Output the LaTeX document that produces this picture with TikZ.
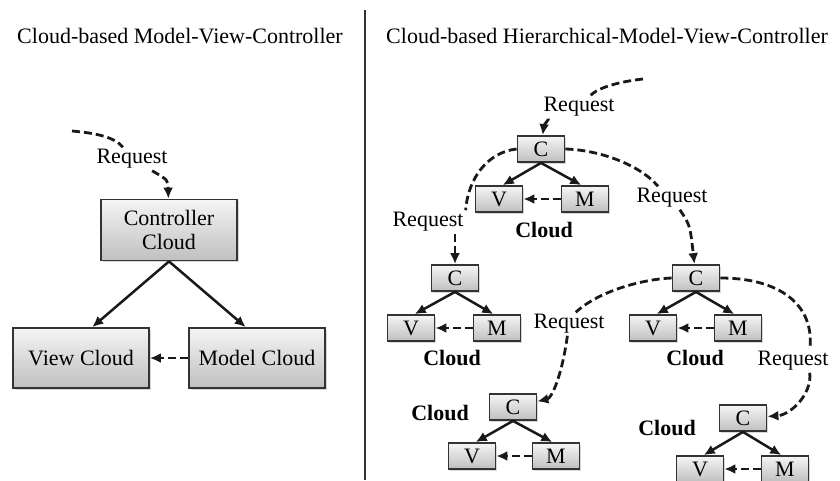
\documentclass[tikz,border=0pt]{standalone}
\usepackage{fontspec}
\setmainfont{Liberation Serif}
\usetikzlibrary{arrows.meta, positioning, shadows}

\begin{document}
\begin{tikzpicture}[x=1pt, y=-1pt, >={Latex[length=11pt, width=10pt]}, font=\fontsize{22}{24}\selectfont]
% Define styles for boxes, labels and arrows
\tikzstyle{block} = [draw=black!80, line width=1.8pt, rectangle, top color=gray!8, bottom color=gray!50, drop shadow={shadow xshift=1.5pt, shadow yshift=-1.5pt, opacity=0.3}, minimum width=136pt, minimum height=61pt, align=center, inner sep=0pt]
\tikzstyle{cell} = [block, minimum width=47pt, minimum height=26pt]
\tikzstyle{tag} = [inner sep=2pt]
\tikzstyle{cloudtag} = [font=\fontsize{22}{24}\selectfont\bfseries]
\tikzstyle{link} = [->, line width=2.5pt, black!90]
\tikzstyle{request} = [line width=2.8pt, dash pattern=on 8pt off 4pt, black!90]

\path[use as bounding box, fill=white] (0,0) rectangle (840,480);

% Titles and divider
\node[anchor=base] (title1) at (180,43) {Cloud-based Model-View-Controller};
\node[anchor=base] (title2) at (607,43) {Cloud-based Hierarchical-Model-View-Controller};
\draw[line width=2pt, black!80] (365,10) -- (365,480);

% Nodes placement, left side
\node[block] (ctrl) at (169,230) {Controller\\Cloud};
\node[block, minimum height=60pt] (view) at (81,358) {View Cloud};
\node[block, minimum height=60pt] (model) at (257,358) {Model Cloud};
\coordinate (in0) at (72,131);
\node[tag] (req0) at (132,159) {Request};

% Nodes placement, right side
\coordinate (in1) at (643,79);
\node[tag] (req1) at (579,107) {Request};
\node[cell] (c1) at (541,149) {C};
\node[cell] (v1) at (499,199) {V};
\node[cell] (m1) at (585,199) {M};
\node[cloudtag] (cloud1) at (544,230) {Cloud};
\node[tag] (req2) at (428,222) {Request};
\node[tag] (req3) at (672,198) {Request};

\node[cell] (c2) at (455,278) {C};
\node[cell] (v2) at (411,328) {V};
\node[cell] (m2) at (497,328) {M};
\node[cloudtag] (cloud2) at (452,358) {Cloud};

\node[cell] (c3) at (696,278) {C};
\node[cell] (v3) at (653,328) {V};
\node[cell] (m3) at (738,328) {M};
\node[cloudtag] (cloud3) at (695,358) {Cloud};
\node[tag] (req4) at (569,324) {Request};
\node[tag] (req5) at (793,361) {Request};

\node[cell] (c4) at (513,407) {C};
\node[cell] (v4) at (472,456) {V};
\node[cell] (m4) at (556,456) {M};
\node[cloudtag] (cloud4) at (440,413) {Cloud};

\node[cell] (c5) at (743,418) {C};
\node[cell] (v5) at (700,469) {V};
\node[cell] (m5) at (785,469) {M};
\node[cloudtag] (cloud5) at (667,428) {Cloud};

% Draw edges, left side
\draw[request] (in0) .. controls (95,133) and (115,137) .. (req0);
\draw[request, ->] (req0) .. controls (168,180) .. (ctrl);
\draw[link] (ctrl.south) -- (view.70);
\draw[link] (ctrl.south) -- (model.110);
\draw[request, ->] (model) -- (view);

% Requests passed down the hierarchy
\draw[request] (in1) .. controls (625,81) and (600,86) .. (req1);
\draw[request, ->] (req1) .. controls (550,118) and (544,125) .. (c1);
\draw[request] (c1.west) .. controls (488,152) and (468,178) .. (req2.north east);
\draw[request, ->] (req2.south -| c2.north) -- (c2.north);
\draw[request] (c1.east) .. controls (600,150) and (640,165) .. (req3.140);
\draw[request, ->] (req3) .. controls (690,225) .. (c3);
\draw[request] (c3.west) .. controls (645,279) and (600,290) .. (req4.60);
\draw[request, ->] (req4) .. controls (562,375) and (552,398) .. (c4);
\draw[request] (c3.east) .. controls (780,278) and (815,305) .. (req5.35);
\draw[request, ->] (req5.-35) .. controls (812,395) and (790,415) .. (c5);

% Links inside each cloud
\draw[link] (c1.south) -- (v1.75);
\draw[link] (c1.south) -- (m1.105);
\draw[request, ->] (m1) -- (v1);
\draw[link] (c2.south) -- (v2.75);
\draw[link] (c2.south) -- (m2.105);
\draw[request, ->] (m2) -- (v2);
\draw[link] (c3.south) -- (v3.75);
\draw[link] (c3.south) -- (m3.105);
\draw[request, ->] (m3) -- (v3);
\draw[link] (c4.south) -- (v4.75);
\draw[link] (c4.south) -- (m4.105);
\draw[request, ->] (m4) -- (v4);
\draw[link] (c5.south) -- (v5.75);
\draw[link] (c5.south) -- (m5.105);
\draw[request, ->] (m5) -- (v5);
\end{tikzpicture}
\end{document}
